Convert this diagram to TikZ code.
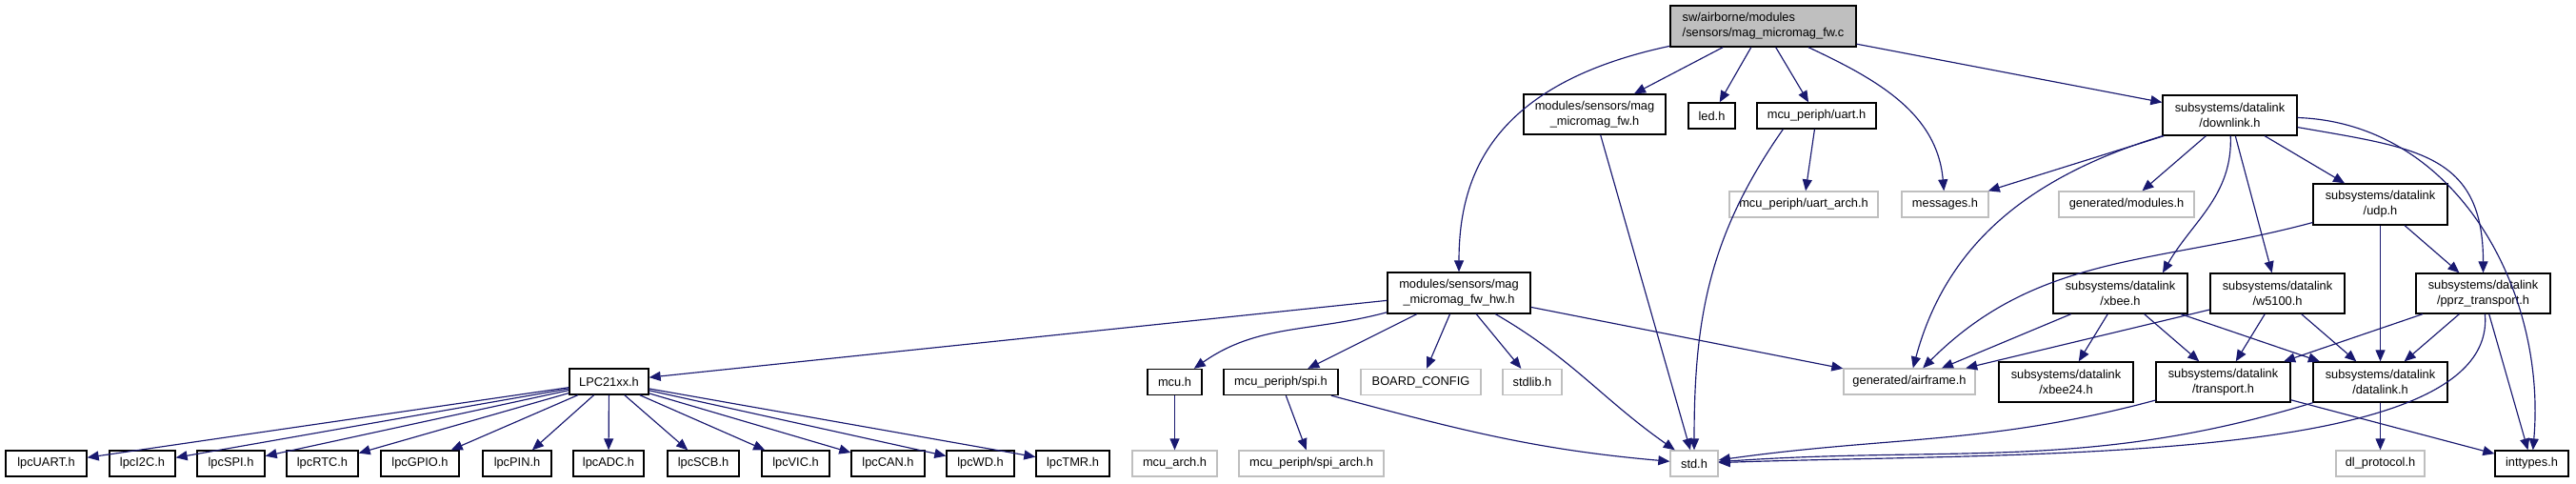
\documentclass[tikz,border=0pt]{standalone}
\usepackage{fontspec}
\setmainfont{Liberation Sans}
\usepackage{tikz}
\usetikzlibrary{arrows.meta}
\definecolor{edgeblue}{RGB}{25,25,112}
\definecolor{boxgray}{RGB}{191,191,191}

\begin{document}
\begin{tikzpicture}[
  font=\fontsize{3.65pt}{4.5pt}\selectfont,
  hfile/.style={
    draw=black,
    fill=white,
    line width=0.38pt,
    align=center,
    inner sep=0pt,
    minimum height=0.27cm
  },
  xfile/.style={
    hfile,
    draw=boxgray
  },
  srcfile/.style={
    hfile,
    fill=boxgray,
    align=left
  },
  incl/.style={
    draw=edgeblue,
    line width=0.33pt,
    -{Triangle[length=1.2mm,width=1.0mm]}
  }
]
\useasboundingbox (0,0) rectangle (27.05,-5.07);

% -------------------------------------------------------------------
% source file and first level
% -------------------------------------------------------------------
\node[srcfile, minimum width=1.95cm, minimum height=0.43cm] (top) at (18.515,-0.275)
{sw/airborne/modules\\/sensors/mag\_micromag\_fw.c};

\node[hfile, minimum width=1.49cm, minimum height=0.42cm] (fw) at (16.745,-1.20)
{modules/sensors/mag\\\_micromag\_fw.h};
\node[hfile, minimum width=0.49cm] (led) at (17.975,-1.215) {led.h};
\node[hfile, minimum width=1.25cm] (uart) at (19.075,-1.215) {mcu\_periph/uart.h};
\node[hfile, minimum width=1.41cm, minimum height=0.42cm] (downlink) at (23.415,-1.21)
{subsystems/datalink\\/downlink.h};

% -------------------------------------------------------------------
% second level
% -------------------------------------------------------------------
\node[xfile, minimum width=1.56cm] (uartarch) at (18.94,-2.145) {mcu\_periph/uart\_arch.h};
\node[xfile, minimum width=0.91cm] (messages) at (20.425,-2.145) {messages.h};
\node[xfile, minimum width=1.42cm] (genmodules) at (22.33,-2.145) {generated/modules.h};
\node[hfile, minimum width=1.41cm, minimum height=0.43cm] (udp) at (24.995,-2.145)
{subsystems/datalink\\/udp.h};

% -------------------------------------------------------------------
% third level
% -------------------------------------------------------------------
\node[hfile, minimum width=1.50cm, minimum height=0.43cm] (hw) at (15.32,-3.075)
{modules/sensors/mag\\\_micromag\_fw\_hw.h};
\node[hfile, minimum width=1.41cm, minimum height=0.42cm] (xbee) at (22.265,-3.08)
{subsystems/datalink\\/xbee.h};
\node[hfile, minimum width=1.41cm, minimum height=0.42cm] (w5100) at (23.915,-3.08)
{subsystems/datalink\\/w5100.h};
\node[hfile, minimum width=1.41cm, minimum height=0.42cm] (pprz) at (26.075,-3.08)
{subsystems/datalink\\/pprz\_transport.h};

% -------------------------------------------------------------------
% fourth level
% -------------------------------------------------------------------
\node[hfile, minimum width=0.83cm] (lpc) at (6.395,-4.005) {LPC21xx.h};
\node[hfile, minimum width=0.57cm] (mcu) at (12.335,-4.01) {mcu.h};
\node[hfile, minimum width=1.20cm] (spi) at (13.45,-4.01) {mcu\_periph/spi.h};
\node[xfile, minimum width=1.26cm] (board) at (14.92,-4.01) {BOARD\_CONFIG};
\node[xfile, minimum width=0.62cm] (stdlib) at (16.09,-4.01) {stdlib.h};
\node[xfile, minimum width=1.38cm] (airframe) at (20.05,-4.005) {generated/airframe.h};
\node[hfile, minimum width=1.41cm, minimum height=0.42cm] (xbee24) at (21.695,-4.01)
{subsystems/datalink\\/xbee24.h};
\node[hfile, minimum width=1.41cm, minimum height=0.42cm] (transport) at (23.345,-4.01)
{subsystems/datalink\\/transport.h};
\node[hfile, minimum width=1.41cm, minimum height=0.42cm] (datalink) at (24.995,-4.01)
{subsystems/datalink\\/datalink.h};

% -------------------------------------------------------------------
% bottom row
% -------------------------------------------------------------------
\node[hfile, minimum width=0.85cm] (lpcuart) at (0.485,-4.865) {lpcUART.h};
\node[hfile, minimum width=0.69cm] (lpci2c) at (1.495,-4.865) {lpcI2C.h};
\node[hfile, minimum width=0.71cm] (lpcspi) at (2.425,-4.865) {lpcSPI.h};
\node[hfile, minimum width=0.75cm] (lpcrtc) at (3.385,-4.865) {lpcRTC.h};
\node[hfile, minimum width=0.82cm] (lpcgpio) at (4.41,-4.865) {lpcGPIO.h};
\node[hfile, minimum width=0.72cm] (lpcpin) at (5.43,-4.865) {lpcPIN.h};
\node[hfile, minimum width=0.74cm] (lpcadc) at (6.39,-4.865) {lpcADC.h};
\node[hfile, minimum width=0.75cm] (lpcscb) at (7.385,-4.865) {lpcSCB.h};
\node[hfile, minimum width=0.71cm] (lpcvic) at (8.355,-4.865) {lpcVIC.h};
\node[hfile, minimum width=0.77cm] (lpccan) at (9.325,-4.865) {lpcCAN.h};
\node[hfile, minimum width=0.71cm] (lpcwd) at (10.295,-4.865) {lpcWD.h};
\node[hfile, minimum width=0.77cm] (lpctmr) at (11.265,-4.865) {lpcTMR.h};
\node[xfile, minimum width=0.89cm] (mcuarch) at (12.335,-4.865) {mcu\_arch.h};
\node[xfile, minimum width=1.52cm] (spiarch) at (13.77,-4.865) {mcu\_periph/spi\_arch.h};
\node[xfile, minimum width=0.50cm] (std) at (17.79,-4.865) {std.h};
\node[xfile, minimum width=0.93cm] (dlproto) at (24.995,-4.865) {dl\_protocol.h};
\node[hfile, minimum width=0.77cm] (inttypes) at (26.585,-4.865) {inttypes.h};

% -------------------------------------------------------------------
% includes
% -------------------------------------------------------------------
\draw[incl] (top) to[out=192,in=90,out looseness=1.5,in looseness=0.8] (hw);
\draw[incl] (top) -- (fw);
\draw[incl] (top) -- (led);
\draw[incl] (top) -- (uart);
\draw[incl] (top) to[out=-25,in=95] (messages);
\draw[incl] (top) -- (downlink);

\draw[incl] (fw) -- (std);
\draw[incl] (uart) -- (uartarch);
\draw[incl] ([xshift=0.28cm]uart.south west) to[out=-125,in=90] (std);

\draw[incl] (downlink) -- (messages);
\draw[incl] (downlink) -- (genmodules);
\draw[incl] (downlink) -- (udp);
\draw[incl] (downlink) -- (w5100);
\draw[incl] (downlink) to[out=-88,in=60] (xbee.26);
\draw[incl] (downlink) to[out=197,in=75] (airframe);
\draw[incl] (downlink) to[out=-10,in=90,looseness=1.3] (pprz);
\draw[incl] (downlink) to[out=-2,in=85] (inttypes);

\draw[incl] (udp) to[out=195,in=45] (airframe);
\draw[incl] (udp) -- (datalink);
\draw[incl] (udp) -- (pprz);

\draw[incl] (xbee) -- (airframe);
\draw[incl] (xbee) -- (xbee24);
\draw[incl] (xbee) -- (transport);
\draw[incl] (xbee) -- (datalink);

\draw[incl] (w5100) -- (airframe);
\draw[incl] (w5100) -- (transport);
\draw[incl] (w5100) -- (datalink);

\draw[incl] (pprz) -- (transport);
\draw[incl] (pprz) -- (datalink);
\draw[incl] (pprz) -- (inttypes);
\draw[incl] (pprz) to[out=-85,in=2,out looseness=0.5] (std);

\draw[incl] (transport) to[out=195,in=8] (std);
\draw[incl] (transport) -- (inttypes);
\draw[incl] (datalink) to[out=197,in=4] (std);
\draw[incl] (datalink) -- (dlproto);

\draw[incl] (hw) -- (lpc);
\draw[incl] (hw) to[out=195,in=35] (mcu);
\draw[incl] (hw) -- (spi);
\draw[incl] (hw) -- (board);
\draw[incl] (hw) -- (stdlib);
\draw[incl] (hw) to[out=-30,in=145] (std);
\draw[incl] (hw) -- (airframe);

\draw[incl] (spi) -- (spiarch);
\draw[incl] (spi) to[out=-15,in=175] (std);
\draw[incl] (mcu) -- (mcuarch);

\draw[incl] (lpc) -- (lpcuart);
\draw[incl] (lpc) -- (lpci2c);
\draw[incl] (lpc) -- (lpcspi);
\draw[incl] (lpc) -- (lpcrtc);
\draw[incl] (lpc) -- (lpcgpio);
\draw[incl] (lpc) -- (lpcpin);
\draw[incl] (lpc) -- (lpcadc);
\draw[incl] (lpc) -- (lpcscb);
\draw[incl] (lpc) -- (lpcvic);
\draw[incl] (lpc) -- (lpccan);
\draw[incl] (lpc) -- (lpcwd);
\draw[incl] (lpc) -- (lpctmr);

\end{tikzpicture}
\end{document}
